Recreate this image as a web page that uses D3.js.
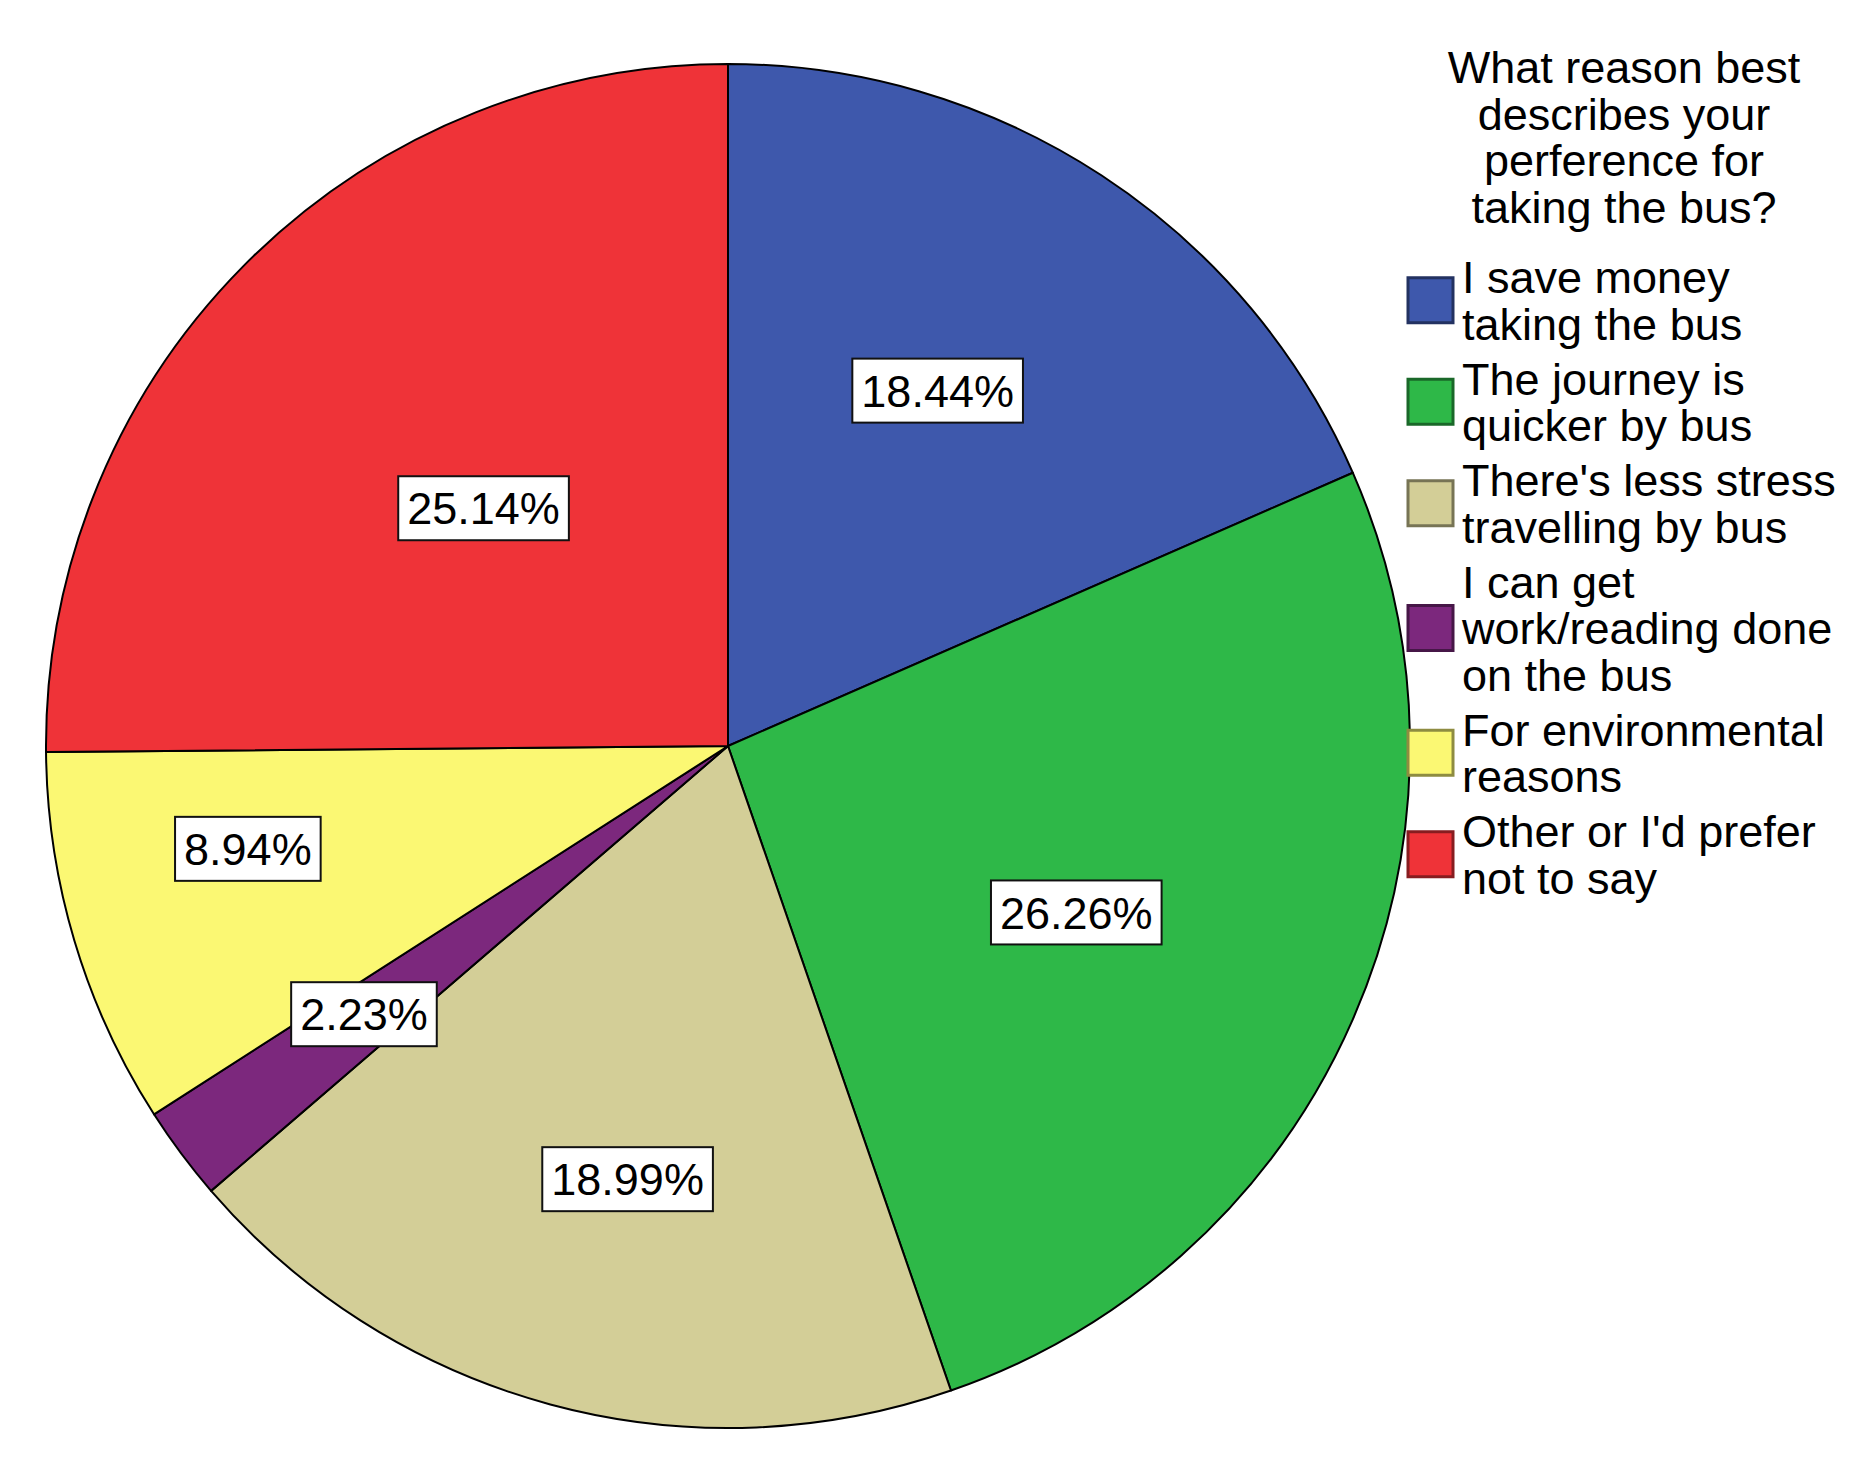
<!DOCTYPE html>
<html>
<head>
<meta charset="utf-8">
<script src="https://cdn.jsdelivr.net/npm/d3@7"></script>
<style>
  html, body { margin: 0; padding: 0; background: #ffffff; }
  svg { display: block; }
  text { font-family: "Liberation Sans", Arial, sans-serif; fill: #000; }
</style>
</head>
<body>
<svg id="chart" width="1869" height="1457"></svg>
<script>
// ---- data ----
const categories = [
  "I save money taking the bus",
  "The journey is quicker by bus",
  "There's less stress travelling by bus",
  "I can get work/reading done on the bus",
  "For environmental reasons",
  "Other or I'd prefer not to say"
];
const percents = [18.44, 26.26, 18.99, 2.23, 8.94, 25.14];
const colors = ["#3E58AC", "#2EB848", "#D3CE97", "#7C287D", "#FBF873", "#EF3338"];
const legendTitleLines = ["What reason best", "describes your", "perference for", "taking the bus?"];

// ---- layout (not data) ----
const W = 1869, H = 1457;
const cx = 728, cy = 746, R = 682;
const labelRadiusFrac = [0.605, 0.566, 0.652, 0.663, 0.72, 0.50];
const labelAngleFrac  = [0.46, 0.52, 0.47, 0.54, 0.64, 0.494];
const fontSize = 45;

const svg = d3.select("#chart");
const data = categories.map((c, i) => ({ name: c, value: percents[i], color: colors[i], i }));

const pie = d3.pie().sort(null).value(d => d.value).startAngle(0).endAngle(2 * Math.PI);
const arcs = pie(data);
const arc = d3.arc().innerRadius(0).outerRadius(R);

const g = svg.append("g").attr("transform", `translate(${cx},${cy})`);
g.selectAll("path.slice")
  .data(arcs)
  .enter().append("path")
  .attr("class", "slice")
  .attr("d", arc)
  .attr("fill", d => d.data.color)
  .attr("stroke", "#000")
  .attr("stroke-width", 2)
  .attr("stroke-linejoin", "round");

// labels
const fmt = v => v.toFixed(2) + "%";
const lbl = g.selectAll("g.lbl")
  .data(arcs)
  .enter().append("g")
  .attr("class", "lbl")
  .attr("transform", d => {
    const i = d.data.i;
    const rr = R * labelRadiusFrac[i];
    const a = d.startAngle + labelAngleFrac[i] * (d.endAngle - d.startAngle);
    return `translate(${rr * Math.sin(a)},${-rr * Math.cos(a)})`;
  });
lbl.each(function(d) {
  const s = d3.select(this);
  const rect = s.append("rect");
  const t = s.append("text")
    .attr("text-anchor", "middle")
    .attr("y", fontSize * 0.36)
    .style("font-size", fontSize + "px")
    .text(fmt(d.data.value));
  const w = t.node().getComputedTextLength();
  const bw = w + 18, bh = 64;
  rect.attr("x", -bw / 2).attr("y", -bh / 2)
    .attr("width", bw).attr("height", bh)
    .attr("fill", "#fff")
    .attr("stroke", "#111")
    .attr("stroke-width", 2);
});

// legend title
const titleCx = 1624;
const titleG = svg.append("g");
legendTitleLines.forEach((line, i) => {
  titleG.append("text")
    .attr("x", titleCx)
    .attr("y", 83 + i * 46.7)
    .attr("text-anchor", "middle")
    .style("font-size", fontSize + "px")
    .text(line);
});

// legend items
const textX = 1462, swX = 1408, sw = 45;
const lineH = 46.5, itemGap = 55;
const maxW = 390;
const measure = svg.append("text").style("font-size", fontSize + "px").attr("x", -9999).attr("y", -9999);
function wrap(str) {
  const words = str.split(" ");
  const lines = [];
  let cur = "";
  words.forEach(wd => {
    const test = cur ? cur + " " + wd : wd;
    measure.text(test);
    if (measure.node().getComputedTextLength() > maxW && cur) {
      lines.push(cur);
      cur = wd;
    } else cur = test;
  });
  if (cur) lines.push(cur);
  return lines;
}

let y = 293;
const legend = svg.append("g");
data.forEach((d, i) => {
  const lines = wrap(d.name);
  const firstY = y;
  lines.forEach((ln, k) => {
    legend.append("text")
      .attr("x", textX)
      .attr("y", y + k * lineH)
      .style("font-size", fontSize + "px")
      .text(ln);
  });
  const lastY = y + (lines.length - 1) * lineH;
  const mid = (firstY - 32 + lastY) / 2;
  legend.append("rect")
    .attr("x", swX).attr("y", mid - sw / 2)
    .attr("width", sw).attr("height", sw)
    .attr("fill", d.color)
    .attr("stroke", d3.color(d.color).darker(1.6))
    .attr("stroke-width", 3);
  y = lastY + itemGap;
});
measure.remove();
</script>
</body>
</html>
